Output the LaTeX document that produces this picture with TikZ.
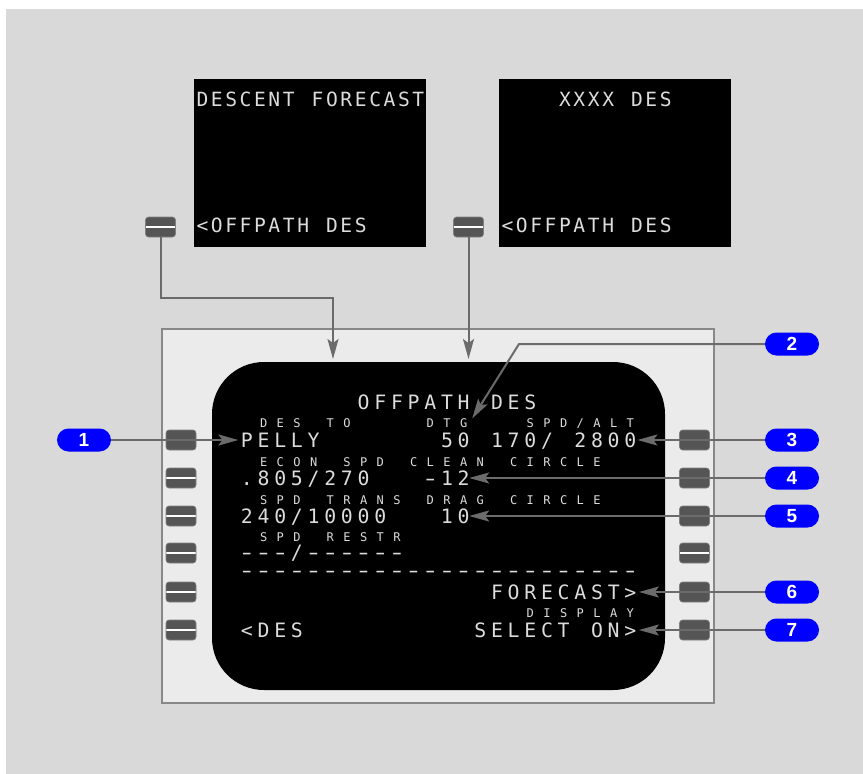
\documentclass[tikz,border=0pt]{standalone}
\usepackage{fontspec}
\usepackage{graphicx}
\usepackage{tikz}
\usetikzlibrary{arrows.meta,positioning}
\newfontfamily\fmcfont{DejaVu Sans Mono}
\newfontfamily\badgefont{Liberation Sans}
\definecolor{bggray}{HTML}{D9D9D9}
\definecolor{framegray}{HTML}{EBEBEB}
\definecolor{frameedge}{HTML}{888888}
\definecolor{keygray}{HTML}{555555}
\definecolor{linegray}{HTML}{6B6B6B}
\definecolor{fmctext}{HTML}{DCDCDC}
\definecolor{badgeblue}{HTML}{0000FF}
% characters of the display sit on a fixed grid
\newlength\fmcpitch
\setlength\fmcpitch{16.67pt}
\newcommand\fmcgrid[1]{\fmcgridstep#1\relax}
\newcommand\fmcgridstep[1]{\ifx\relax#1\else\makebox[\fmcpitch][c]{#1}\expandafter\fmcgridstep\fi}
\newcommand\fd{\scalebox{1.5}[1]{-}}
\tikzset{>={Stealth[length=20pt,width=11pt,inset=4pt]}}
\tikzset{
  bigtxt/.style={anchor=base west, inner sep=0pt, text=fmctext,
    font=\fmcfont\fontsize{19.8}{20}\selectfont, text height=14.4pt, text depth=0pt},
  smalltxt/.style={anchor=base west, inner sep=0pt, text=fmctext,
    font=\fmcfont\fontsize{12}{12}\selectfont, text height=8.7pt, text depth=0pt},
  toptxt/.style={bigtxt, font=\fmcfont\fontsize{19.6}{20}\selectfont\setlength\fmcpitch{14.4pt}},
  topscr/.style={fill=black, inner sep=0pt, minimum width=232pt, minimum height=168pt},
  lskey/.style={fill=keygray, draw=keygray!75!white, line width=0.6pt, rounded corners=3pt,
    minimum width=30pt, minimum height=20pt, inner sep=0pt},
  lsline/.style={lskey, path picture={\draw[white, line width=2.5pt]
    (path picture bounding box.west) -- (path picture bounding box.east);}},
  badge/.style={fill=badgeblue, text=white, font=\badgefont\bfseries\fontsize{19}{19}\selectfont,
    rounded corners=11.5pt, minimum width=54pt, minimum height=23pt, inner sep=0pt},
  calline/.style={draw=linegray, line width=2pt, ->}
}
\begin{document}
\begin{tikzpicture}[x=1pt, y=-1pt]
  \useasboundingbox (0,0) rectangle (863,774);
  \fill[bggray] (6,9) rectangle (863,774);
  % pages that lead here
  \node[topscr] (fcst) at (310,163) {};
  \node[topscr] (xdes) at (615,163) {};
  \node[toptxt] (fcsttl) at (195,106.2) {\fmcgrid{DESCENT~FORECAST}};
  \node[toptxt] (fcstlsk) at (195,232.2) {\fmcgrid{<OFFPATH~DES}};
  \node[toptxt] (xdestl) at (557.6,106.2) {\fmcgrid{XXXX~DES}};
  \node[toptxt] (xdeslsk) at (500,232.2) {\fmcgrid{<OFFPATH~DES}};
  \node[lsline] (kfc) at (160.5,227) {};
  \node[lsline] (kxd) at (468.5,227) {};
  % cdu
  \draw[frameedge, fill=framegray, line width=2pt] (162,329) rectangle (714,703);
  \node[fill=black, rounded corners=52pt, minimum width=453pt, minimum height=328pt,
    inner sep=0pt] (cdu) at (438.5,526) {};
  \node[lskey] (kl440) at (181,440) {};
  \foreach \y in {478,516,553,592,630}
    \node[lsline] (kl\y) at (181,\y) {};
  \foreach \y in {440,478,516,592,630}
    \node[lskey] (kr\y) at (694.5,\y) {};
  \node[lsline] (kr553) at (694.5,553) {};
  % display lines
  \node[bigtxt] (title) at (355.1,409.2) {\fmcgrid{OFFPATH~DES}};
  \node[smalltxt] (desto) at (255.1,427.4) {\fmcgrid{DES~TO}};
  \node[smalltxt] (dtg) at (421.8,427.4) {\fmcgrid{DTG}};
  \node[smalltxt] (spdalt) at (521.8,427.4) {\fmcgrid{SPD/ALT}};
  \node[bigtxt] (r1) at (238.4,447.2) {\fmcgrid{PELLY~~~~~~~50~170/~2800}};
  \node[smalltxt] (s2) at (255.1,466) {\fmcgrid{ECON~SPD~CLEAN~CIRCLE}};
  \node[bigtxt] (r2) at (238.4,485.2) {\fmcgrid{.805/270~~~\fd12}};
  \node[smalltxt] (s3) at (255.1,504) {\fmcgrid{SPD~TRANS~DRAG~CIRCLE}};
  \node[bigtxt] (r3) at (238.4,523.2) {\fmcgrid{240/10000~~~10}};
  \node[smalltxt] (s4) at (255.1,541.4) {\fmcgrid{SPD~RESTR}};
  \node[bigtxt] (r4) at (238.4,559) {\fmcgrid{\fd\fd\fd/\fd\fd\fd\fd\fd\fd}};
  \node[bigtxt] (r5) at (238.4,577.3)
    {\fmcgrid{\fd\fd\fd\fd\fd\fd\fd\fd\fd\fd\fd\fd\fd\fd\fd\fd\fd\fd\fd\fd\fd\fd\fd\fd}};
  \node[bigtxt] (fc) at (488.5,599.2) {\fmcgrid{FORECAST>}};
  \node[smalltxt] (s7) at (521.8,617.4) {\fmcgrid{DISPLAY}};
  \node[bigtxt] (r7) at (238.4,637.2) {\fmcgrid{<DES~~~~~~~~~~SELECT~ON>}};
  % callouts
  \node[badge] (n1) at (84,440) {1};
  \node[badge] (n2) at (792,344) {2};
  \node[badge] (n3) at (792,440) {3};
  \node[badge] (n4) at (792,478) {4};
  \node[badge] (n5) at (792,516) {5};
  \node[badge] (n6) at (792,592) {6};
  \node[badge] (n7) at (792,630) {7};
  \coordinate (bend2) at (519,344);
  \coordinate (bendA) at (333,298);
  \coordinate (inA) at (333,359);
  \coordinate (inB) at (468.5,359);
  \draw[calline] (kfc.south) |- (bendA) -- (inA);
  \draw[calline] (kxd.south) -- (inB);
  \draw[calline] (n1.east) -- (r1.west);
  \draw[calline] (n2.west) -- (bend2) -- (dtg.north east);
  \draw[calline, shorten >=-1.5pt] (n3.west) -- (r1.east);
  \draw[calline, shorten >=-3pt] (n4.west) -- (r2.east);
  \draw[calline, shorten >=-3pt] (n5.west) -- (r3.east);
  \draw[calline] (n6.west) -- (fc.east);
  \draw[calline] (n7.west) -- (r7.east);
\end{tikzpicture}
\end{document}
